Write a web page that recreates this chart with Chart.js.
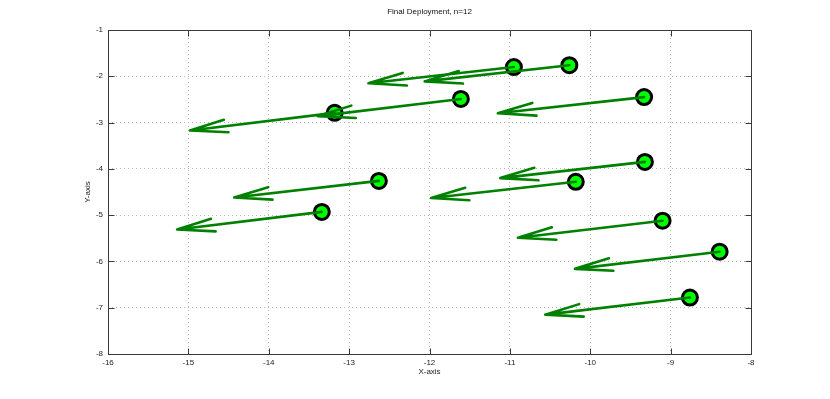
<!DOCTYPE html>
<html>
<head>
<meta charset="utf-8">
<title>Final Deployment</title>
<script src="https://cdn.jsdelivr.net/npm/chart.js@4/dist/chart.umd.min.js"></script>
<style>
  html, body { margin: 0; padding: 0; background: #fff; }
  #wrap { width: 830px; height: 399px; }
</style>
</head>
<body>
<div id="wrap"><canvas id="chart" width="830" height="399"></canvas></div>
<script>
// node positions
const xPos = [-10.26, -10.95, -9.33, -11.61, -13.18, -9.32, -12.63, -10.18, -13.34, -9.10, -8.39, -8.76];
const yPos = [-1.76, -1.80, -2.45, -2.49, -2.79, -3.85, -4.26, -4.28, -4.93, -5.12, -5.79, -6.78];
// displacement vectors (quiver u, v)
const uVec = [-1.80, -1.81, -1.82, -1.78, -1.80, -1.80, -1.80, -1.80, -1.80, -1.80, -1.80, -1.80];
const vVec = [-0.35, -0.35, -0.35, -0.37, -0.38, -0.35, -0.36, -0.35, -0.38, -0.37, -0.37, -0.37];
// axis ticks
const xTicks = [-16, -15, -14, -13, -12, -11, -10, -9, -8];
const yTicks = [-8, -7, -6, -5, -4, -3, -2, -1];

const headAlpha = 0.25, headBeta = 0.3;
const fontFamily = '"Liberation Sans", Arial, Helvetica, sans-serif';

// build one line dataset per arrow: shaft + two barbs
const arrowSets = xPos.map((x0, i) => {
    const y0 = yPos[i], u = uVec[i], v = vVec[i];
    const tx = x0 + u, ty = y0 + v;
    const a = {x: tx - headAlpha * (u + headBeta * v), y: ty - headAlpha * (v - headBeta * u)};
    const b = {x: tx - headAlpha * (u - headBeta * v), y: ty - headAlpha * (v + headBeta * u)};
    return {
        type: 'line',
        data: [{x: x0, y: y0}, {x: tx, y: ty}, a, {x: tx, y: ty}, b],
        borderColor: '#008000',
        borderWidth: 2.6,
        pointRadius: 0,
        fill: false,
        tension: 0,
        borderJoinStyle: 'round',
        borderCapStyle: 'round',
        order: 1
    };
});

const pointSet = {
    type: 'scatter',
    data: xPos.map((x, i) => ({x: x, y: yPos[i]})),
    backgroundColor: '#00ff00',
    borderColor: '#000000',
    borderWidth: 3,
    pointRadius: 7.5,
    pointHoverRadius: 7.5,
    order: 2
};

// MATLAB-like box with inward ticks
const boxPlugin = {
    id: 'boxPlugin',
    afterDatasetsDraw(chart) {
        const {ctx, chartArea: ca, scales} = chart;
        const L = Math.round(ca.left) + 0.5, R = Math.round(ca.right) + 0.5;
        const T = Math.round(ca.top) + 0.5, B = Math.round(ca.bottom) + 0.5;
        ctx.save();
        ctx.strokeStyle = '#3a3a3a';
        ctx.lineWidth = 1;
        ctx.strokeRect(L, T, R - L, B - T);
        ctx.beginPath();
        const len = 6;
        xTicks.forEach(t => {
            const px = Math.round(scales.x.getPixelForValue(t)) + 0.5;
            ctx.moveTo(px, B); ctx.lineTo(px, B - len);
            ctx.moveTo(px, T); ctx.lineTo(px, T + len);
        });
        yTicks.forEach(t => {
            const py = Math.round(scales.y.getPixelForValue(t)) + 0.5;
            ctx.moveTo(L, py); ctx.lineTo(L + len, py);
            ctx.moveTo(R, py); ctx.lineTo(R - len, py);
        });
        ctx.stroke();
        ctx.restore();
    }
};

new Chart(document.getElementById('chart'), {
    data: { datasets: arrowSets.concat([pointSet]) },
    options: {
        responsive: false,
        animation: false,
        events: [],
        layout: { padding: { left: 0, right: 79, top: 0, bottom: 0 } },
        plugins: {
            legend: { display: false },
            tooltip: { enabled: false },
            title: {
                display: true,
                fullSize: false,
                text: 'Final Deployment, n=12',
                color: '#111',
                font: { family: fontFamily, size: 8, weight: 'normal' },
                padding: { top: 7, bottom: 13.4 }
            }
        },
        scales: {
            x: {
                type: 'linear',
                min: -16, max: -8,
                afterFit(scale) { scale.height = 45; },
                afterBuildTicks(scale) { scale.ticks = xTicks.map(v => ({value: v})); },
                ticks: { color: '#222', padding: 4, font: { family: fontFamily, size: 8 } },
                grid: { color: '#b8b8b8', lineWidth: 1, drawTicks: false },
                border: { display: false, dash: [1, 3] },
                title: { display: true, text: 'X-axis', color: '#222',
                         font: { family: fontFamily, size: 8 }, padding: { top: 0, bottom: 22 } }
            },
            y: {
                type: 'linear',
                min: -8, max: -1,
                afterFit(scale) { scale.width = 108; },
                afterBuildTicks(scale) { scale.ticks = yTicks.map(v => ({value: v})); },
                ticks: { color: '#222', padding: 5, font: { family: fontFamily, size: 8 } },
                grid: { color: '#b8b8b8', lineWidth: 1, drawTicks: false },
                border: { display: false, dash: [1, 3] },
                title: { display: true, text: 'Y-axis', color: '#222',
                         font: { family: fontFamily, size: 8 }, padding: { top: 83, bottom: 0 } }
            }
        }
    },
    plugins: [boxPlugin]
});
</script>
</body>
</html>
